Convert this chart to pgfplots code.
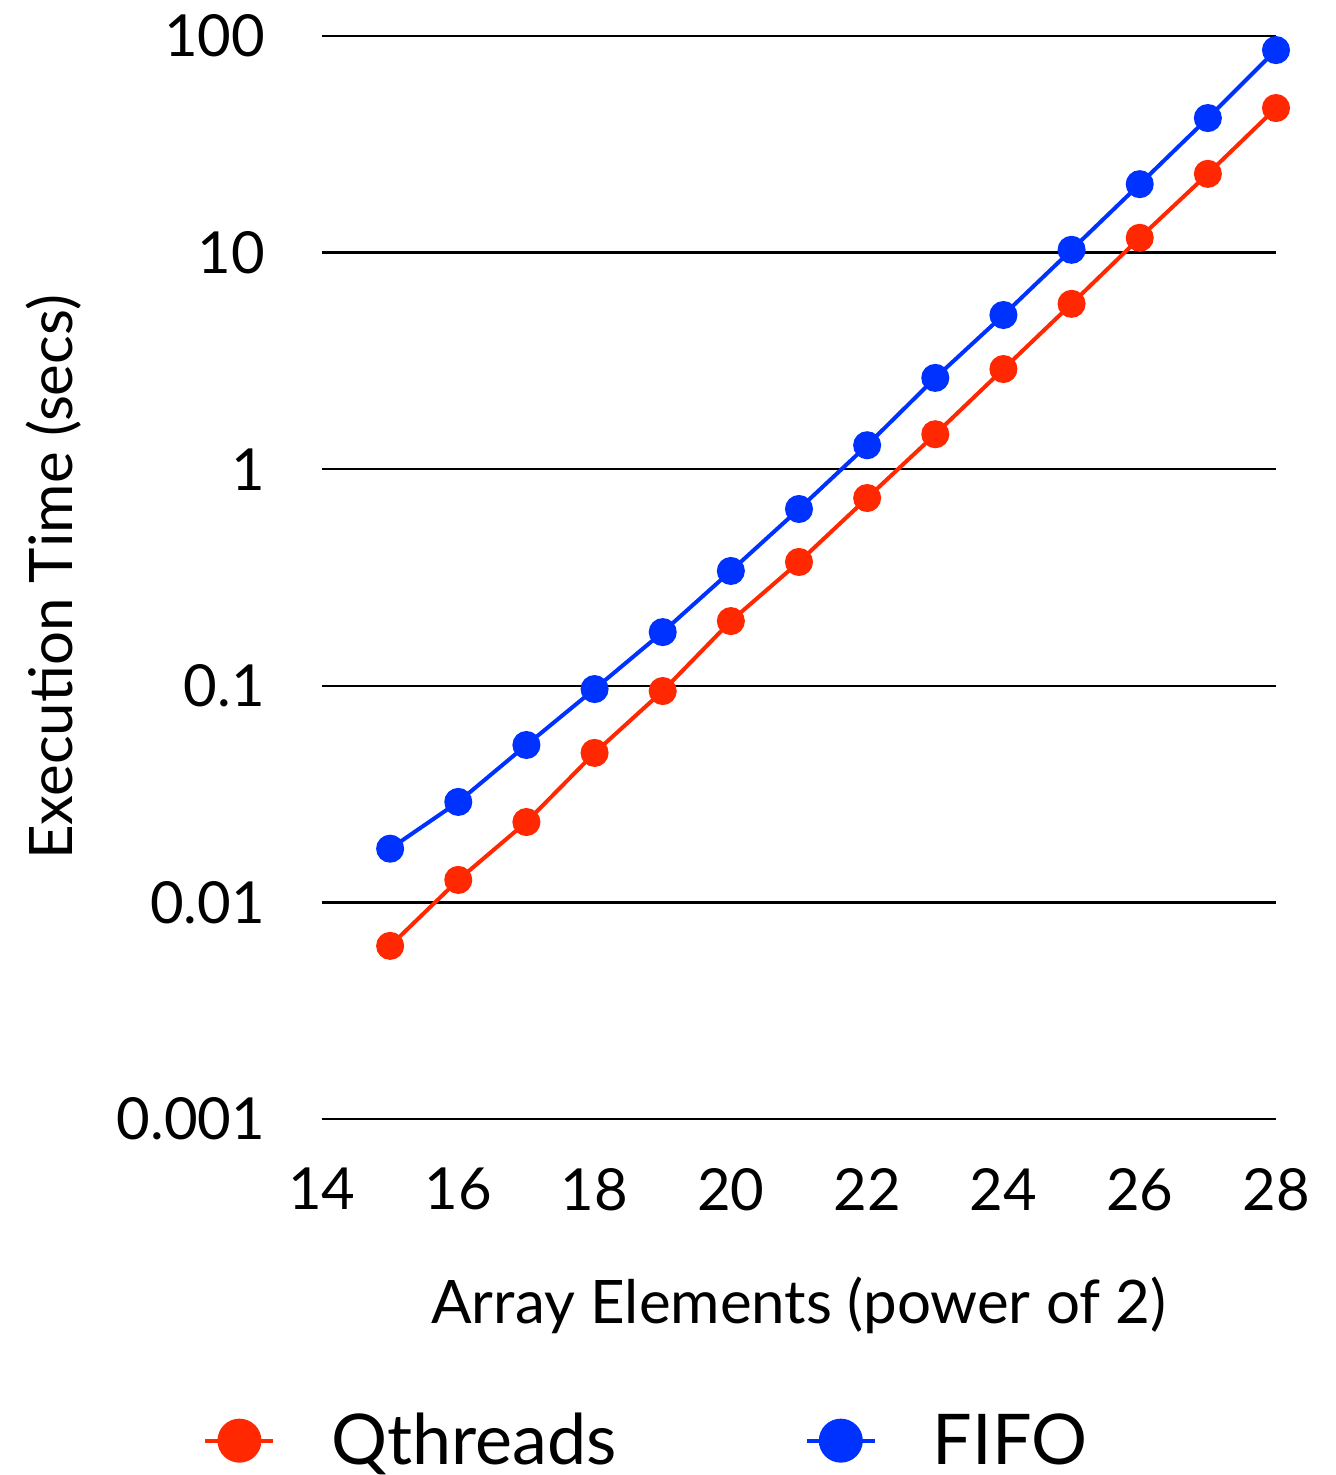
\documentclass[border=0pt]{standalone}
\usepackage{fontspec}
\setmainfont{Lato}
\usepackage{pgfplots}
\pgfplotsset{compat=1.18}

\definecolor{qred}{RGB}{255,40,0}
\definecolor{fblue}{RGB}{0,50,255}

\begin{document}
\begin{tikzpicture}
% 1 px of the reference = 0.5pt; axis box south west at (0,0)
\useasboundingbox (-161pt,-178pt) rectangle (507pt,559.5pt);
\begin{axis}[
  scale only axis,
  width=477pt, height=541.5pt,
  ymode=log,
  xmin=14, xmax=28,
  ymin=0.001, ymax=100,
  xtick={14,16,...,28},
  ytick={0.001,0.01,0.1,1,10,100},
  yticklabels={0.001,0.01,0.1,1,10,100},
  axis line style={draw=none},
  tick style={draw=none},
  ymajorgrids,
  major grid style={black, line width=1.3pt},
  /pgf/number format/assume math mode=true,
  ticklabel style={font=\fontsize{29pt}{35pt}\selectfont},
  yticklabel style={xshift=-25pt},
  xticklabel style={yshift=-21pt},
  xlabel={Array Elements (power of 2)},
  ylabel={Execution Time (secs)},
  label style={font=\fontsize{30pt}{36pt}\selectfont},
  xlabel style={at={(0.5,0)}, anchor=center, yshift=-93pt},
  ylabel style={at={(0,0.5)}, anchor=center, yshift=134pt},
  every axis plot/.append style={line width=2pt, mark=*, mark size=6pt},
  legend style={at={(0.341,-0.297)}, anchor=center, draw=none, fill=none,
    font=\fontsize{35pt}{41pt}\selectfont, legend columns=2,
    /tikz/every even column/.append style={column sep=92pt},
    legend cell align=left},
  legend image code/.code={
    \draw[#1, mark=none] (0pt,0pt) -- (34pt,0pt);
    \draw[#1, mark size=10pt] plot coordinates {(17pt,0pt)};
  },
]
\addplot[color=qred, mark options={fill=qred, draw=qred}] coordinates {
  (15,0.0063) (16,0.0127) (17,0.0235) (18,0.049) (19,0.0946) (20,0.199)
  (21,0.373) (22,0.736) (23,1.45) (24,2.90) (25,5.80) (26,11.7)
  (27,23.1) (28,46.5)
};
\addlegendentry{\hspace{26pt}Qthreads}
\addplot[color=fblue, mark options={fill=fblue, draw=fblue}] coordinates {
  (15,0.0177) (16,0.0291) (17,0.0533) (18,0.0966) (19,0.177) (20,0.339)
  (21,0.655) (22,1.29) (23,2.64) (24,5.15) (25,10.3) (26,20.7)
  (27,41.8) (28,86.1)
};
\addlegendentry{\hspace{26pt}FIFO}
\end{axis}
\end{tikzpicture}
\end{document}
